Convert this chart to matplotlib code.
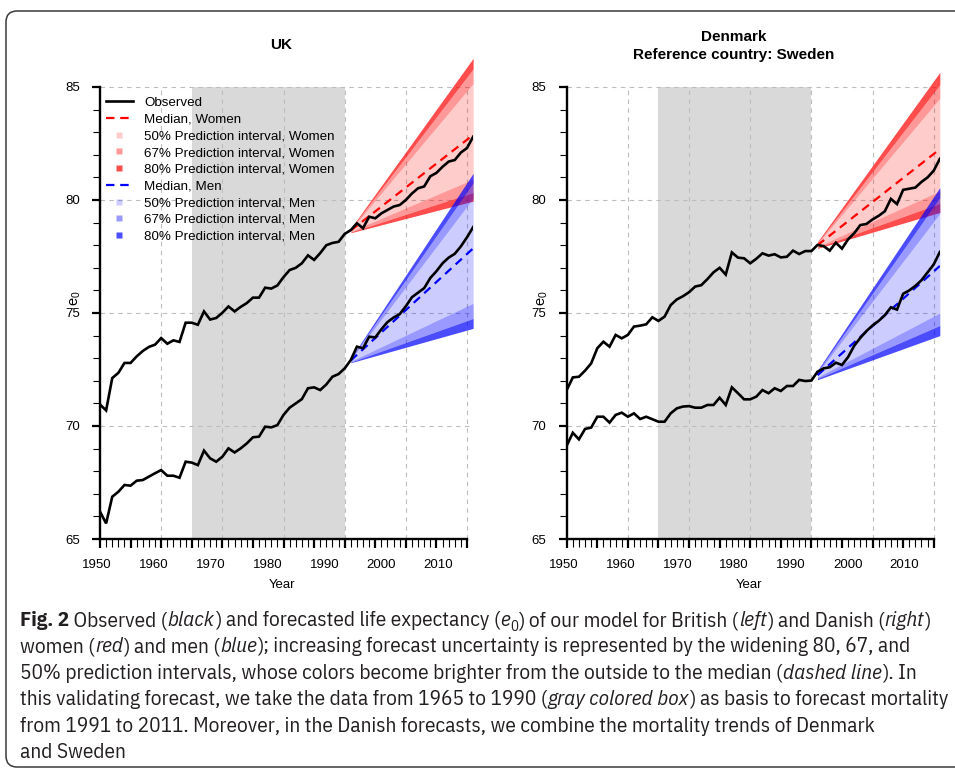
import matplotlib
matplotlib.use("Agg")
import matplotlib.pyplot as plt
from matplotlib.lines import Line2D
from matplotlib.patches import Rectangle, FancyBboxPatch
from matplotlib.transforms import IdentityTransform
from matplotlib import font_manager

# ---------------- data ----------------
years = list(range(1950, 2012))

uk_women = [70.95, 70.69, 72.12, 72.35, 72.79, 72.79, 73.08, 73.32, 73.50, 73.60,
            73.89, 73.64, 73.79, 73.72, 74.57, 74.57, 74.48, 75.07, 74.71, 74.78,
            75.01, 75.29, 75.07, 75.27, 75.44, 75.68, 75.68, 76.12, 76.08, 76.22,
            76.59, 76.90, 77.00, 77.20, 77.55, 77.35, 77.65, 78.00, 78.10, 78.15,
            78.50, 78.67, 78.97, 78.75, 79.26, 79.19, 79.41, 79.56, 79.71, 79.78,
            80.00, 80.29, 80.52, 80.60, 81.05, 81.20, 81.47, 81.70, 81.77, 82.10,
            82.30, 82.80]
uk_men = [66.21, 65.69, 66.87, 67.09, 67.39, 67.36, 67.58, 67.61, 67.76, 67.91,
          68.05, 67.80, 67.80, 67.71, 68.42, 68.38, 68.27, 68.91, 68.57, 68.42,
          68.64, 69.01, 68.83, 69.01, 69.23, 69.50, 69.53, 69.97, 69.94, 70.04,
          70.49, 70.81, 71.00, 71.19, 71.67, 71.71, 71.59, 71.84, 72.18, 72.30,
          72.55, 72.92, 73.51, 73.44, 73.95, 73.92, 74.28, 74.60, 74.80, 74.95,
          75.30, 75.70, 75.90, 76.10, 76.55, 76.85, 77.20, 77.45, 77.62, 77.95,
          78.35, 78.80]
dk_women = [71.59, 72.15, 72.18, 72.45, 72.77, 73.44, 73.73, 73.51, 74.03, 73.88,
            74.03, 74.40, 74.44, 74.50, 74.81, 74.65, 74.84, 75.35, 75.60, 75.74,
            75.92, 76.17, 76.23, 76.50, 76.80, 77.00, 76.70, 77.68, 77.45, 77.42,
            77.20, 77.40, 77.64, 77.54, 77.60, 77.46, 77.49, 77.76, 77.61, 77.74,
            77.74, 78.01, 77.96, 77.76, 78.11, 77.85, 78.26, 78.53, 78.89, 78.94,
            79.14, 79.30, 79.50, 80.05, 79.82, 80.45, 80.50, 80.55, 80.80, 81.00,
            81.30, 81.82]
dk_men = [69.13, 69.70, 69.41, 69.87, 69.93, 70.41, 70.41, 70.15, 70.49, 70.59,
          70.41, 70.56, 70.31, 70.41, 70.30, 70.19, 70.19, 70.56, 70.78, 70.86,
          70.88, 70.81, 70.81, 70.93, 70.93, 71.25, 70.93, 71.71, 71.45, 71.18,
          71.18, 71.30, 71.59, 71.45, 71.67, 71.55, 71.77, 71.77, 72.04, 71.99,
          72.01, 72.40, 72.55, 72.60, 72.80, 72.70, 73.05, 73.55, 73.90, 74.20,
          74.45, 74.65, 74.90, 75.25, 75.15, 75.85, 76.00, 76.20, 76.45, 76.80,
          77.15, 77.70]

# forecast fans: values at start and end of forecast horizon
fan_years = [1991, 2011]
uk_w_median = [78.65, 82.88]
uk_w_lo80, uk_w_lo67, uk_w_lo50 = [78.55, 79.95], [78.58, 80.33], [78.61, 80.92]
uk_w_hi50, uk_w_hi67, uk_w_hi80 = [78.69, 85.15], [78.72, 85.80], [78.75, 86.27]
uk_m_median = [72.90, 77.86]
uk_m_lo80, uk_m_lo67, uk_m_lo50 = [72.80, 74.32], [72.83, 74.76], [72.86, 75.43]
uk_m_hi50, uk_m_hi67, uk_m_hi80 = [72.94, 80.08], [72.97, 80.75], [73.00, 81.18]
dk_w_median = [78.00, 82.25]
dk_w_lo80, dk_w_lo67, dk_w_lo50 = [77.86, 79.45], [77.90, 79.85], [77.94, 80.40]
dk_w_hi50, dk_w_hi67, dk_w_hi80 = [78.06, 84.50], [78.10, 85.10], [78.15, 85.65]
dk_m_median = [72.25, 77.08]
dk_m_lo80, dk_m_lo67, dk_m_lo50 = [72.05, 74.00], [72.10, 74.45], [72.16, 75.00]
dk_m_hi50, dk_m_hi67, dk_m_hi80 = [72.34, 79.40], [72.40, 80.10], [72.46, 80.55]

basis_period = [1965, 1990]
xtick_labels = ["1950", "1960", "1970", "1980", "1990", "2000", "2010"]
ytick_values = [65, 70, 75, 80, 85]
legend_labels = ["Observed", "Median, Women", "50% Prediction interval, Women",
                 "67% Prediction interval, Women", "80% Prediction interval, Women",
                 "Median, Men", "50% Prediction interval, Men",
                 "67% Prediction interval, Men", "80% Prediction interval, Men"]
titles = [["UK"], ["Denmark", "Reference country: Sweden"]]

caption_lines = [
    [("Fig. 2", "b"), (" Observed (", "n"), ("black", "i"),
     (") and forecasted life expectancy (", "n"), ("e", "i"), ("0", "sub"),
     (") of our model for British (", "n"), ("left", "i"), (") and Danish (", "n"),
     ("right", "i"), (")", "n")],
    [("women (", "n"), ("red", "i"), (") and men (", "n"), ("blue", "i"),
     ("); increasing forecast uncertainty is represented by the widening 80, 67, and", "n")],
    [("50% prediction intervals, whose colors become brighter from the outside to the median (", "n"),
     ("dashed line", "i"), ("). In", "n")],
    [("this validating forecast, we take the data from 1965 to 1990 (", "n"),
     ("gray colored box", "i"), (") as basis to forecast mortality", "n")],
    [("from 1991 to 2011. Moreover, in the Danish forecasts, we combine the mortality trends of Denmark", "n")],
    [("and Sweden", "n")],
]

# ---------------- style ----------------
W, H, DPI = 955, 770, 100
plt.rcParams["font.family"] = ["Liberation Sans", "DejaVu Sans"]
plt.rcParams["mathtext.fontset"] = "custom"
plt.rcParams["mathtext.rm"] = "Liberation Sans"
plt.rcParams["mathtext.it"] = "Liberation Sans:italic"

RED, BLUE = (1.0, 0.0, 0.0), (0.0, 0.0, 1.0)
A50, A67, A80 = 0.2, 0.4, 0.7
GRID_C = "#BDBDBD"
BOX_C = "#D9D9D9"
TICK_FS = 9.5
DASH = (0, (3.8, 2.6))

fig = plt.figure(figsize=(W / DPI, H / DPI), dpi=DPI)

YPX_PER = 22.6          # pixels per year of e0
XPX_PER = 6.117         # pixels per calendar year
YLIM = (65, 86.6)
XLIM = (1950, 2011)
ax_w = (XLIM[1] - XLIM[0]) * XPX_PER
ax_h = (YLIM[1] - YLIM[0]) * YPX_PER
bottom_px = 539
lefts_px = [100, 566.7]

lab_start, lab_step = 1949.55, 9.28


def draw_fan(ax, med, lo80, lo67, lo50, hi50, hi67, hi80, col):
    ax.fill_between(fan_years, lo80, lo67, color=col, alpha=A80, lw=0, zorder=2)
    ax.fill_between(fan_years, lo67, lo50, color=col, alpha=A67, lw=0, zorder=2)
    ax.fill_between(fan_years, lo50, hi50, color=col, alpha=A50, lw=0, zorder=2)
    ax.fill_between(fan_years, hi50, hi67, color=col, alpha=A67, lw=0, zorder=2)
    ax.fill_between(fan_years, hi67, hi80, color=col, alpha=A80, lw=0, zorder=2)


panels = [
    dict(w=uk_women, m=uk_men,
         wf=(uk_w_median, uk_w_lo80, uk_w_lo67, uk_w_lo50, uk_w_hi50, uk_w_hi67, uk_w_hi80),
         mf=(uk_m_median, uk_m_lo80, uk_m_lo67, uk_m_lo50, uk_m_hi50, uk_m_hi67, uk_m_hi80)),
    dict(w=dk_women, m=dk_men,
         wf=(dk_w_median, dk_w_lo80, dk_w_lo67, dk_w_lo50, dk_w_hi50, dk_w_hi67, dk_w_hi80),
         mf=(dk_m_median, dk_m_lo80, dk_m_lo67, dk_m_lo50, dk_m_hi50, dk_m_hi67, dk_m_hi80)),
]

axes = []
for i, p in enumerate(panels):
    l = lefts_px[i]
    ax = fig.add_axes([l / W, (H - bottom_px) / H, ax_w / W, ax_h / H])
    axes.append(ax)
    ax.set_xlim(*XLIM)
    ax.set_ylim(*YLIM)
    ax.patch.set_visible(False)

    ax.add_patch(Rectangle((basis_period[0], 65), basis_period[1] - basis_period[0], 20,
                           facecolor=BOX_C, edgecolor="none", zorder=0))
    ax.hlines([70, 75, 80, 85], XLIM[0], XLIM[1], colors=GRID_C,
              linestyles=(0, (4, 4)), lw=0.8, zorder=1)
    ax.vlines([1960, 1970, 1980, 1990, 2000, 2010], 65, 85, colors=GRID_C,
              linestyles=(0, (4, 4)), lw=0.8, zorder=1)

    draw_fan(ax, *p["wf"], RED)
    draw_fan(ax, *p["mf"], BLUE)
    ax.plot(fan_years, p["wf"][0], color=RED, lw=1.6, ls=DASH, zorder=3)
    ax.plot(fan_years, p["mf"][0], color=BLUE, lw=1.6, ls=DASH, zorder=3)
    ax.plot(years, p["w"], color="black", lw=1.9, zorder=4, solid_joinstyle="miter")
    ax.plot(years, p["m"], color="black", lw=1.9, zorder=4, solid_joinstyle="miter")

    for s in ["top", "right"]:
        ax.spines[s].set_visible(False)
    ax.spines["left"].set_bounds(65, 85)
    ax.spines["bottom"].set_bounds(1950, 2010)
    ax.spines["left"].set_linewidth(1.7)
    ax.spines["bottom"].set_linewidth(1.7)

    ax.set_xticks(list(range(1950, 2011, 5)))
    ax.set_xticks(list(range(1950, 2011)), minor=True)
    ax.set_yticks(ytick_values)
    ax.set_yticks(list(range(65, 86)), minor=True)
    ax.tick_params(axis="x", which="major", length=6.5, width=1.6, labelbottom=False)
    ax.tick_params(axis="x", which="minor", length=5.5, width=0.8)
    ax.tick_params(axis="y", which="major", length=6.0, width=1.6, labelsize=TICK_FS, pad=8.5)
    ax.tick_params(axis="y", which="minor", length=5.0, width=0.8)

    for k, lab in enumerate(xtick_labels):
        ax.annotate(lab, xy=(lab_start + lab_step * k, 0), xycoords=("data", "axes fraction"),
                    xytext=(0, -26), textcoords="offset pixels", ha="center", va="center",
                    fontsize=TICK_FS, annotation_clip=False)

    cx = l + 182
    fig.text(cx / W, 1 - 585 / H, "Year", ha="center", va="center", fontsize=TICK_FS)
    fig.text((l - 24) / W, 1 - 298 / H, r"$\mathrm{e}_{0}$", ha="center", va="center",
             rotation=90, fontsize=10.5)
    t = titles[i]
    tx = (l + 181 if i == 0 else l + 167)
    if len(t) == 1:
        fig.text(tx / W, 1 - 45 / H, t[0], ha="center", va="center", fontsize=11,
                 fontweight="bold")
    else:
        fig.text(tx / W, 1 - 37 / H, t[0], ha="center", va="center", fontsize=11,
                 fontweight="bold")
        fig.text(tx / W, 1 - 55 / H, t[1], ha="center", va="center", fontsize=11,
                 fontweight="bold")

# legend (left panel only)
def sq(col, a):
    return Line2D([], [], ls="none", marker="s", markersize=4.5,
                  markerfacecolor=col + (a,), markeredgecolor="none")

handles = [Line2D([], [], color="black", lw=1.9),
           Line2D([], [], color=RED, lw=1.6, ls=DASH),
           sq(RED, A50), sq(RED, A67), sq(RED, A80),
           Line2D([], [], color=BLUE, lw=1.6, ls=DASH),
           sq(BLUE, A50), sq(BLUE, A67), sq(BLUE, A80)]
axes[0].legend(handles, legend_labels, loc="upper left",
               bbox_to_anchor=(106 / W, 1 - 96.5 / H), bbox_transform=fig.transFigure,
               frameon=False, fontsize=9.6, handlelength=2.0, handletextpad=0.85,
               labelspacing=0.33, borderpad=0, borderaxespad=0)

# border box
fig.add_artist(FancyBboxPatch((6, 3), 1000, 756, boxstyle="round,pad=0,rounding_size=11",
                              transform=IdentityTransform(), fill=False,
                              edgecolor="#3a3a3a", lw=1.1))

# caption font: prefer a condensed sans family with regular, italic and bold faces
renderer = fig.canvas.get_renderer()
faces = {}
for f in font_manager.fontManager.ttflist:
    faces.setdefault(f.name, []).append(f)


def usable(name):
    fl = faces.get(name, [])
    has_it = any(f.style in ("italic", "oblique") for f in fl)
    has_b = any((f.weight if isinstance(f.weight, int) else 400) >= 600 or f.weight == "bold"
                for f in fl)
    return bool(fl) and has_it and has_b


bad = ["Mono", "Serif", "Display", "Extra", "Ultra", "Semi", "Black", "Light", "Thin",
       "Medium", "Math", "Symbol", "Emoji", "CJK", "Slab"]
condensed = [n for n in sorted(faces)
             if ("Narrow" in n or "Condensed" in n) and "Sans" in n
             and not any(b in n for b in bad) and usable(n)]
regular = [n for n in ["Lato", "Roboto", "Liberation Sans", "Open Sans", "Noto Sans"] if usable(n)]


def seg_props(kind, size):
    if kind == "b":
        return dict(fontsize=size, fontweight="bold", fontstyle="normal")
    if kind == "i":
        return dict(fontsize=size, fontweight="normal", fontstyle="italic")
    if kind == "sub":
        return dict(fontsize=size * 0.7, fontweight="normal", fontstyle="normal")
    return dict(fontsize=size, fontweight="normal", fontstyle="normal")


ITAL_GAP = 0.3  # px of air around italic runs next to upright parentheses


def text_w(s, props, fam):
    t = fig.text(0, 0, s, family=fam, **props)
    w = t.get_window_extent(renderer).width
    t.remove()
    return w


def advance(s, props, fam):
    return text_w("." + s + ".", props, fam) - text_w("..", props, fam)


def seg_adv(s, k, size, fam):
    a = advance(s, seg_props(k, size), fam)
    return a + (2 * ITAL_GAP if k == "i" else 0)


def line_width(segs, size, fam):
    return sum(seg_adv(s, k, size, fam) for s, k in segs)


base = 10.0
target_w = 914.0
target_size = 15.5
pool = condensed if condensed else (regular if regular else ["DejaVu Sans"])
fits = [(base * target_w / line_width(caption_lines[0], base, c), c) for c in pool]
cap_size, CAP_FONT = min(fits, key=lambda z: abs(z[0] - target_size))
CAP_COLOR = "#231f20"

x0, y0, dy = 20.0, 626.0, 26.4
for li, segs in enumerate(caption_lines):
    x = x0
    yb = y0 + dy * li
    for s, k in segs:
        props = seg_props(k, cap_size)
        yy = yb + (0.22 * cap_size * DPI / 72 if k == "sub" else 0)
        xd = x + (ITAL_GAP if k == "i" else 0)
        fig.text(xd / W, 1 - yy / H, s, family=CAP_FONT,
                 ha="left", va="baseline", color=CAP_COLOR, **props)
        x += seg_adv(s, k, cap_size, CAP_FONT)

fig.savefig("out.png", dpi=DPI)
